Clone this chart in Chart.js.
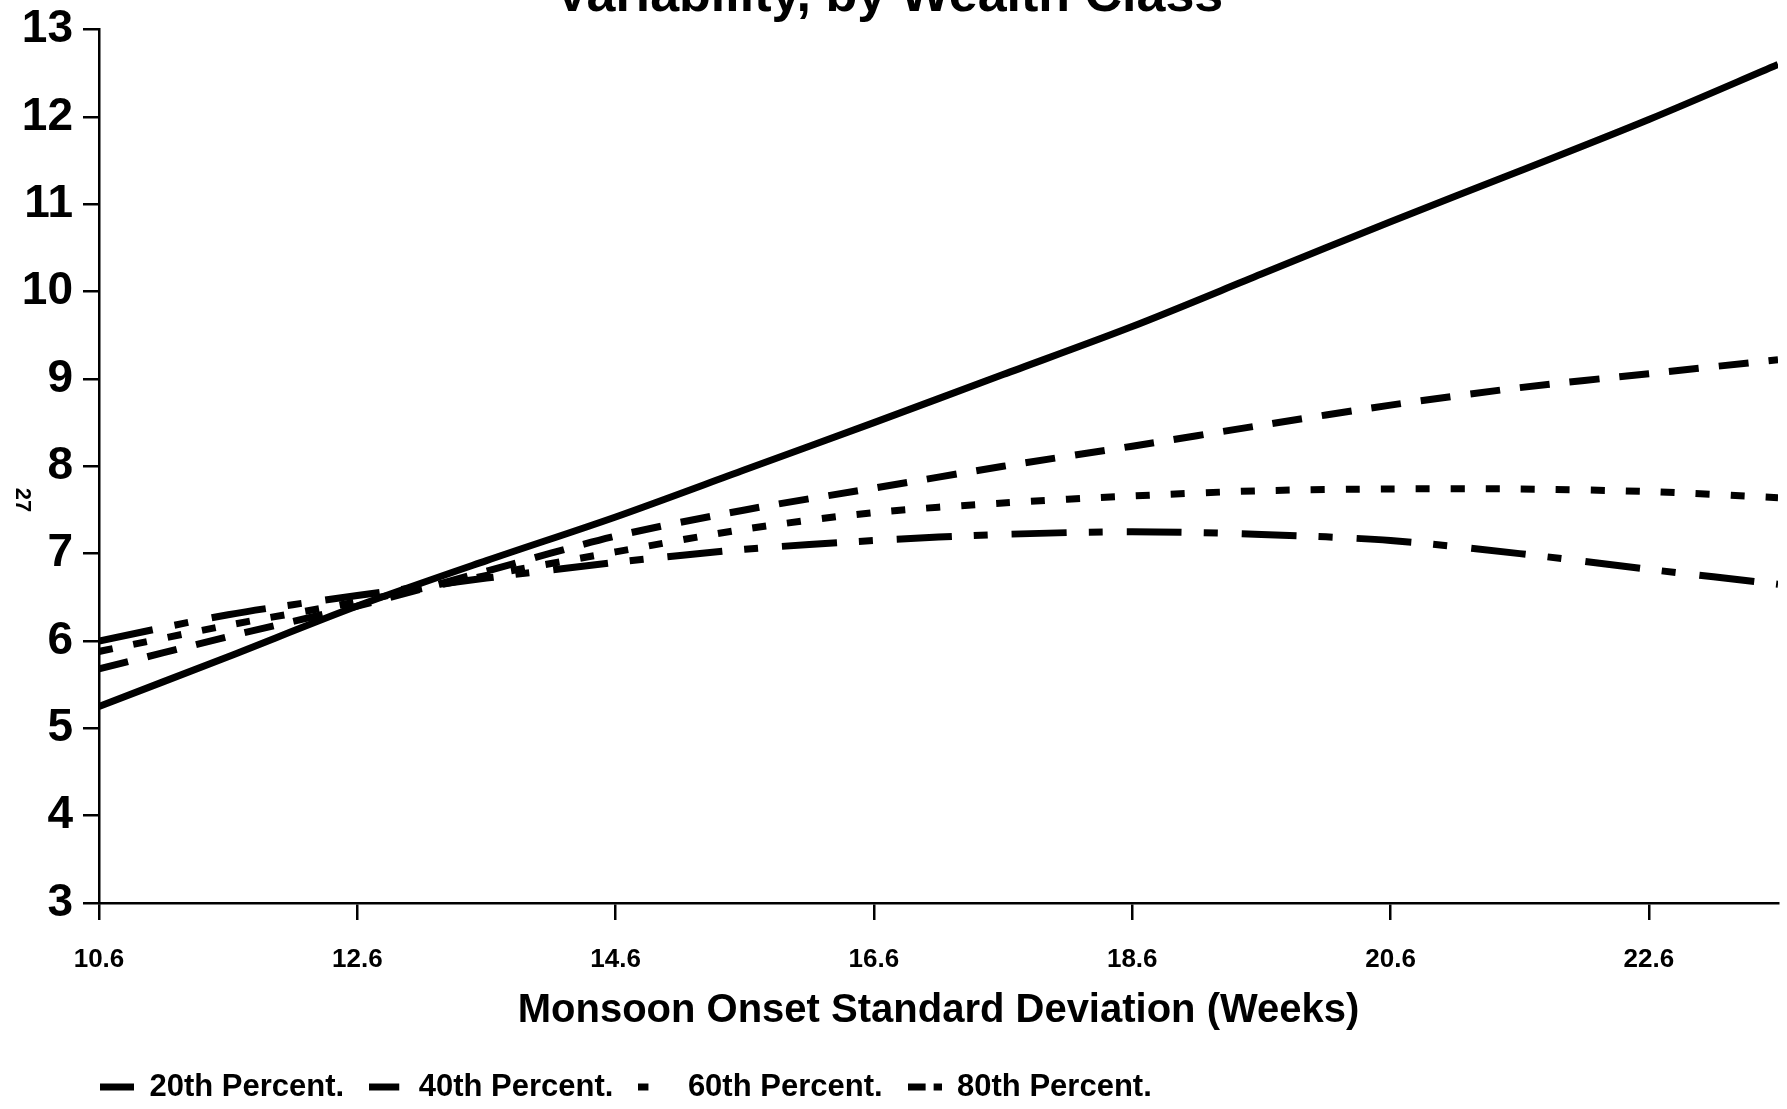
<!DOCTYPE html>
<html>
<head>
<meta charset="utf-8">
<script src="https://cdn.jsdelivr.net/npm/chart.js@4.4.0/dist/chart.umd.min.js"></script>
<style>
  html, body { margin: 0; padding: 0; background: #fff; }
  #caixa { position: relative; width: 1787px; height: 1109px; }
</style>
</head>
<body>
<div id="caixa"><canvas id="grafico" width="1787" height="1109"></canvas></div>
<script>
// desvio padrao do inicio da moncao (semanas)
const desvios = [10.6, 11.6, 12.6, 13.6, 14.6, 15.6, 16.6, 17.6, 18.6, 19.6, 20.6, 21.6, 22.6, 23.6];
const p20 = [5.25, 5.82, 6.40, 6.92, 7.42, 7.96, 8.50, 9.05, 9.60, 10.20, 10.80, 11.38, 11.97, 12.60];
const p40 = [5.68, 6.05, 6.40, 6.80, 7.20, 7.50, 7.75, 8.00, 8.23, 8.47, 8.70, 8.90, 9.06, 9.22];
const p60 = [5.88, 6.18, 6.45, 6.75, 7.02, 7.28, 7.47, 7.58, 7.66, 7.72, 7.74, 7.74, 7.71, 7.64];
const p80 = [6.00, 6.30, 6.52, 6.72, 6.90, 7.05, 7.15, 7.22, 7.25, 7.22, 7.15, 7.00, 6.82, 6.65];

const ticksX = [10.6, 12.6, 14.6, 16.6, 18.6, 20.6, 22.6];
const ticksY = [3, 4, 5, 6, 7, 8, 9, 10, 11, 12, 13];
const nomes = ['20th Percent.', '40th Percent.', '60th Percent.', '80th Percent.'];
const titulo = 'Variability, by Wealth Class';
const tituloX = 'Monsoon Onset Standard Deviation (Weeks)';

const fonte = '"Liberation Sans", Arial, sans-serif';

function pontos(valores) {
  return desvios.map((x, i) => ({ x: x, y: valores[i] }));
}

// marcadores pequenos da legenda (pedacos de traco)
function marcador(pedacos) {
  const c = document.createElement('canvas');
  c.width = 34; c.height = 10;
  const g = c.getContext('2d');
  g.fillStyle = '#000';
  pedacos.forEach(p => g.fillRect(p[0], 1, p[1], 7));
  return c;
}

// titulo cortado no topo e o numero de pagina
const textosExtras = {
  id: 'textosExtras',
  afterDraw(chart) {
    const ctx = chart.ctx;
    ctx.save();
    ctx.fillStyle = '#000';
    ctx.font = 'bold 52px ' + fonte;
    ctx.textAlign = 'center';
    ctx.textBaseline = 'alphabetic';
    ctx.fillText(titulo, 889, 11);
    ctx.translate(22, 500);
    ctx.rotate(Math.PI / 2);
    ctx.font = 'bold 22px ' + fonte;
    ctx.textBaseline = 'middle';
    ctx.fillText('27', 0, 0);
    ctx.restore();
  }
};

// legenda comeca alinhada com o eixo
const moveLegenda = {
  id: 'moveLegenda',
  afterLayout(chart) {
    chart.legend.left += 75;
    chart.legend.right += 75;
    chart.legend.top += 4;
    chart.legend.bottom += 4;
  }
};

const grafico = document.getElementById('grafico');

new Chart(grafico, {
  type: 'line',
  data: {
    datasets: [
      { label: nomes[0], data: pontos(p20), borderDash: [], pointStyle: marcador([[0, 34]]) },
      { label: nomes[1], data: pontos(p40), borderDash: [30, 20], pointStyle: marcador([[0, 30]]) },
      { label: nomes[2], data: pontos(p60), borderDash: [14, 21], pointStyle: marcador([[0, 10]]) },
      { label: nomes[3], data: pontos(p80), borderDash: [55, 22, 14, 24], pointStyle: marcador([[0, 18], [26, 8]]) }
    ].map(d => Object.assign(d, {
      borderColor: '#000',
      backgroundColor: '#000',
      borderWidth: 7,
      pointRadius: 0,
      tension: 0.3,
      fill: false
    }))
  },
  options: {
    responsive: false,
    animation: false,
    layout: { padding: { top: 20, right: 9, left: 0, bottom: 0 } },
    plugins: {
      title: { display: false },
      tooltip: { enabled: false },
      legend: {
        position: 'bottom',
        align: 'start',
        labels: {
          color: '#000',
          font: { family: fonte, size: 31, weight: 'bold' },
          usePointStyle: true,
          pointStyleWidth: 34,
          padding: 25
        }
      }
    },
    scales: {
      x: {
        type: 'linear',
        min: 10.6,
        max: 23.6,
        afterBuildTicks: s => { s.ticks = ticksX.map(v => ({ value: v })); },
        afterFit: s => { s.height = 140; },
        grid: { drawOnChartArea: false, drawTicks: true, tickLength: 17, color: '#000', lineWidth: 2.5 },
        border: { color: '#000', width: 2.5 },
        ticks: {
          color: '#000',
          font: { family: fonte, size: 26, weight: 'bold' },
          padding: 24,
          maxRotation: 0,
          callback: v => v.toFixed(1)
        },
        title: {
          display: true,
          text: tituloX,
          color: '#000',
          font: { family: fonte, size: 40, weight: 'bold' },
          padding: { top: 0, bottom: 8 }
        }
      },
      y: {
        min: 3,
        max: 13,
        afterBuildTicks: s => { s.ticks = ticksY.map(v => ({ value: v })); },
        afterFit: s => { s.width = 99; },
        grid: { drawOnChartArea: false, drawTicks: true, tickLength: 16, color: '#000', lineWidth: 2.5 },
        border: { color: '#000', width: 2.5 },
        ticks: {
          color: '#000',
          font: { family: fonte, size: 46, weight: 'bold', lineHeight: 0.85 },
          padding: 10
        }
      }
    }
  },
  plugins: [textosExtras, moveLegenda]
});
</script>
</body>
</html>
